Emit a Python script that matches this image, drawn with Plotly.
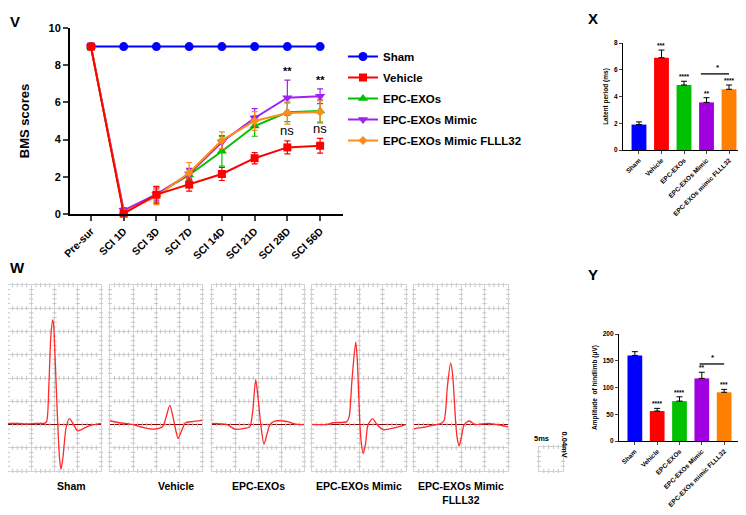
import plotly.graph_objects as go

W, H = 746, 515
OX, OY = 8, 8  # page body margin compensation
FONT = "Liberation Sans, Arial, sans-serif"

# ---------------- Panel V data ----------------
timepoints = ["Pre-sur", "SCI 1D", "SCI 3D", "SCI 7D", "SCI 14D", "SCI 21D", "SCI 28D", "SCI 56D"]
sham_bms = [9, 9, 9, 9, 9, 9, 9, 9]
sham_err = [0, 0, 0, 0, 0, 0, 0, 0]
vehicle_bms = [9, 0.02, 1.04, 1.58, 2.15, 3.0, 3.58, 3.67]
vehicle_err = [0, 0.08, 0.45, 0.35, 0.35, 0.3, 0.35, 0.4]
epc_bms = [9, 0.1, 1.05, 2.1, 3.37, 4.73, 5.47, 5.54]
epc_err = [0, 0.12, 0.4, 0.3, 0.8, 0.55, 0.5, 0.6]
mimic_bms = [9, 0.2, 1.05, 2.15, 3.87, 5.16, 6.25, 6.33]
mimic_err = [0, 0.15, 0.3, 0.3, 0.35, 0.5, 0.95, 0.4]
flll_bms = [9, 0.1, 0.95, 2.22, 3.96, 5.0, 5.43, 5.48]
flll_err = [0, 0.1, 0.45, 0.55, 0.45, 0.5, 0.6, 0.6]

# ---------------- Panel X / Y data ----------------
bar_groups = ["Sham", "Vehicle", "EPC-EXOs", "EPC-EXOs Mimic", "EPC-EXOs mimic FLLL32"]
latent_ms = [1.9, 6.9, 4.86, 3.56, 4.54]
latent_err = [0.2, 0.57, 0.28, 0.35, 0.32]
latent_sig = ["", "***", "****", "**", "****"]
amp_uv = [160, 56, 74.6, 117, 91]
amp_err = [7, 5, 8, 11.5, 5.5]
amp_sig = ["", "****", "****", "**", "***"]

# ---------------- Panel W traces (time ms, mV) ----------------
trace_names = ["Sham", "Vehicle", "EPC-EXOs", "EPC-EXOs Mimic", "EPC-EXOs Mimic<br>FLLL32"]
sham_t = [0, 2, 4, 6, 7.8, 8.3, 8.8, 9.2, 9.6, 9.8, 10.2, 10.7, 11.1, 11.4, 11.8, 12.5, 13.2, 14.1, 15.0, 16.2, 17.6, 20]
sham_v = [0.002, 0.002, 0.001, 0.002, 0.002, 0.005, 0.07, 0.15, 0.18, 0.172, 0.10, 0.0, -0.06, -0.077, -0.058, -0.005, 0.010, 0.0, -0.011, -0.007, -0.002, 0.002]
veh_t = [0, 2.1, 5.0, 7.1, 9.3, 11.4, 12.1, 13.0, 13.7, 14.3, 14.8, 15.6, 16.4, 17.9, 20]
veh_v = [0.006, 0.003, 0.0, -0.005, -0.008, -0.004, 0.01, 0.033, 0.013, -0.01, -0.024, -0.01, 0.003, 0.005, 0.007]
epc_t = [0, 3.2, 5.0, 6.8, 8.2, 8.8, 9.5, 10.0, 10.6, 11.3, 12.0, 12.6, 13.6, 15.4, 16.4, 17.5, 18.9, 20]
epc_v = [0.002, 0.0, -0.008, -0.007, -0.004, 0.019, 0.077, 0.047, 0.0, -0.034, -0.015, 0.0, 0.006, 0.006, 0.005, 0.002, 0.0, 0.0]
mim_t = [0, 3.1, 4.5, 7.4, 7.9, 8.5, 9.3, 9.6, 10.2, 10.5, 10.9, 11.4, 11.9, 12.9, 13.8, 15.2, 17.4, 20]
mim_v = [0.0, 0.0, 0.003, 0.005, 0.013, 0.076, 0.142, 0.116, 0.0, -0.033, -0.05, -0.033, -0.001, 0.010, 0.0, -0.009, -0.006, 0.0]
fl_t = [0, 1.9, 4.1, 5.5, 6.4, 7.1, 7.8, 8.2, 8.9, 9.2, 9.6, 10.1, 10.7, 11.8, 13.0, 15.5, 17.6, 20]
fl_v = [-0.007, -0.005, -0.001, 0.001, 0.007, 0.065, 0.106, 0.087, 0.0, -0.024, -0.037, -0.021, 0.0, 0.006, 0.0, 0.002, 0.0, -0.004]
traces_t = [sham_t, veh_t, epc_t, mim_t, fl_t]
traces_v = [sham_v, veh_v, epc_v, mim_v, fl_v]


def px(x):
    return (x - OX) / W


def py(y):
    return 1 - (y - OY) / H


def xd(a, b):
    return [max(0.0, px(a)), min(1.0, px(b))]


def yd(top, bottom):
    return [max(0.0, py(bottom)), min(1.0, py(top))]


fig = go.Figure()

# ---------------- Panel V ----------------
idx = list(range(len(timepoints)))
series = [
    ("Sham", sham_bms, sham_err, "#0000ff", "circle", 9, 1),
    ("EPC-EXOs", epc_bms, epc_err, "#00c000", "triangle-up", 9, 3),
    ("EPC-EXOs Mimic", mimic_bms, mimic_err, "#a020f0", "triangle-down", 9, 4),
    ("EPC-EXOs Mimic FLLL32", flll_bms, flll_err, "#ff8c1a", "diamond", 7, 5),
    ("Vehicle", vehicle_bms, vehicle_err, "#ff0000", "square", 8, 2),
]
for name, vals, err, col, sym, size, rank in series:
    fig.add_trace(go.Scatter(
        x=idx, y=vals, name=name, mode="lines+markers",
        line=dict(color=col, width=2),
        marker=dict(symbol=sym, size=size, color=col),
        error_y=dict(type="data", array=err, color=col, thickness=1.2, width=3),
        legendrank=rank, legendgroup=name, cliponaxis=False,
        xaxis="x", yaxis="y"))

# ---------------- Panels X and Y ----------------
bar_cols = ["#0000ff", "#ff0000", "#00c000", "#a000e0", "#ff8000"]
bidx = list(range(len(bar_groups)))
fig.add_trace(go.Bar(
    x=bidx, y=latent_ms, marker=dict(color=bar_cols, line=dict(width=0)), width=0.66,
    error_y=dict(type="data", symmetric=False, array=latent_err, arrayminus=[0] * 5,
                 color="black", thickness=1, width=3),
    showlegend=False, xaxis="x2", yaxis="y2"))
fig.add_trace(go.Bar(
    x=bidx, y=amp_uv, marker=dict(color=bar_cols, line=dict(width=0)), width=0.66,
    error_y=dict(type="data", symmetric=False, array=amp_err, arrayminus=[0] * 5,
                 color="black", thickness=1, width=3),
    showlegend=False, xaxis="x3", yaxis="y3"))

# ---------------- Panel W ----------------
panel_x = [(8, 101), (110, 202), (212, 304), (312, 406), (414, 508)]
panel_top, panel_bot = 285, 471
grid_col = "#d2d2d2"
tick_col = "#c4c4c4"
for i in range(5):
    n = i + 4
    xa = "x%d" % n
    ya = "y%d" % n
    hx, hy, vx, vy = [], [], [], []
    for k in range(9):
        yy = -0.08 + 0.04 * k
        for t in range(21):
            if t % 5:
                hx.append(t)
                hy.append(yy)
    for c in range(5):
        for s in range(41):
            if s % 5:
                vx.append(5 * c)
                vy.append(-0.08 + 0.008 * s)
    fig.add_trace(go.Scatter(x=hx, y=hy, mode="markers", hoverinfo="skip", showlegend=False,
                             marker=dict(symbol="line-ns", size=3, line=dict(color=tick_col, width=1)),
                             xaxis=xa, yaxis=ya, cliponaxis=False))
    fig.add_trace(go.Scatter(x=vx, y=vy, mode="markers", hoverinfo="skip", showlegend=False,
                             marker=dict(symbol="line-ew", size=3, line=dict(color=tick_col, width=1)),
                             xaxis=xa, yaxis=ya, cliponaxis=False))
    fig.add_trace(go.Scatter(x=traces_t[i], y=traces_v[i], mode="lines", showlegend=False,
                             line=dict(color="#ff2a2a", width=1.3, shape="spline", smoothing=0.7),
                             xaxis=xa, yaxis=ya))

# scale bar box decorations
fig.add_trace(go.Scatter(x=[1, 2, 3, 4, 1, 2, 3, 4], y=[0] * 4 + [0.04] * 4, mode="markers",
                         hoverinfo="skip", showlegend=False,
                         marker=dict(symbol="line-ns", size=3, line=dict(color=tick_col, width=1)),
                         xaxis="x9", yaxis="y9", cliponaxis=False))
fig.add_trace(go.Scatter(x=[0] * 4 + [5] * 4, y=[0.008, 0.016, 0.024, 0.032] * 2, mode="markers",
                         hoverinfo="skip", showlegend=False,
                         marker=dict(symbol="line-ew", size=3, line=dict(color=tick_col, width=1)),
                         xaxis="x9", yaxis="y9", cliponaxis=False))

layout = dict(
    width=W, height=H, margin=dict(l=0, r=0, t=0, b=0, autoexpand=False),
    paper_bgcolor="white", plot_bgcolor="white",
    font=dict(family=FONT, color="black"),
    showlegend=True,
    legend=dict(x=px(343), y=py(42), xanchor="left", yanchor="top",
                font=dict(family=FONT, size=11.5, weight="bold"),
                traceorder="grouped", itemwidth=30, tracegroupgap=2,
                bgcolor="rgba(0,0,0,0)"),
    bargap=0.3,
)

layout["xaxis"] = dict(domain=xd(70, 343), range=[-0.64, 7.7], tickvals=idx, ticktext=timepoints,
                       tickangle=-45, showline=True, linewidth=2, linecolor="black",
                       ticks="outside", tickwidth=2, ticklen=5, showgrid=False, zeroline=False,
                       tickfont=dict(size=10.5, weight="bold"), anchor="y", automargin=False)
layout["yaxis"] = dict(domain=yd(28, 214), range=[0, 10], dtick=2, showline=True, linewidth=2,
                       linecolor="black", ticks="outside", tickwidth=2, ticklen=5, showgrid=False,
                       zeroline=False, tickfont=dict(size=11, weight="bold"), anchor="x", automargin=False,
                       title=dict(text="BMS scores", font=dict(size=13, weight="bold"), standoff=16))

bar_axis_common = dict(showline=True, linewidth=1.3, linecolor="black", ticks="outside",
                       tickwidth=1.3, ticklen=3, showgrid=False, zeroline=False, automargin=False)
layout["xaxis2"] = dict(domain=xd(623, 745), range=[-0.71, 4.71], tickvals=bidx, ticktext=bar_groups,
                        tickangle=-45, tickfont=dict(size=6.5, weight="bold"), anchor="y2",
                        **bar_axis_common)
layout["yaxis2"] = dict(domain=yd(43, 150), range=[0, 8], dtick=2, tickfont=dict(size=6.5, weight="bold"),
                        anchor="x2", title=dict(text="Latent period (ms)", font=dict(size=6.5, weight="bold"),
                                                standoff=4), **bar_axis_common)
layout["xaxis3"] = dict(domain=xd(619, 740), range=[-0.71, 4.71], tickvals=bidx, ticktext=bar_groups,
                        tickangle=-45, tickfont=dict(size=6.5, weight="bold"), anchor="y3",
                        **bar_axis_common)
layout["yaxis3"] = dict(domain=yd(334, 441), range=[0, 200], dtick=50, tickfont=dict(size=6.5, weight="bold"),
                        anchor="x3", title=dict(text="Amplitude  of hindlimb (μV)",
                                                font=dict(size=6.5, weight="bold"), standoff=4),
                        **bar_axis_common)

for i in range(5):
    n = i + 4
    a, b = panel_x[i]
    layout["xaxis%d" % n] = dict(domain=xd(a, b), range=[0, 20], dtick=5, showgrid=True, gridcolor=grid_col,
                                 gridwidth=1, showline=True, mirror=True, linecolor=grid_col, linewidth=1,
                                 showticklabels=False, ticks="", zeroline=False, anchor="y%d" % n,
                                 automargin=False)
    layout["yaxis%d" % n] = dict(domain=yd(panel_top, panel_bot), range=[-0.08, 0.24], dtick=0.04,
                                 tick0=-0.08, showgrid=True, gridcolor=grid_col, gridwidth=1, showline=True,
                                 mirror=True, linecolor=grid_col, linewidth=1, showticklabels=False, ticks="",
                                 zeroline=True, zerolinecolor="#8b0000", zerolinewidth=1.3,
                                 anchor="x%d" % n, automargin=False)
layout["xaxis9"] = dict(domain=xd(539, 563), range=[0, 5], showgrid=False, showline=True, mirror=True,
                        linecolor=grid_col, linewidth=1, showticklabels=False, ticks="", zeroline=False,
                        anchor="y9", automargin=False)
layout["yaxis9"] = dict(domain=yd(447, 471), range=[0, 0.04], showgrid=False, showline=True, mirror=True,
                        linecolor=grid_col, linewidth=1, showticklabels=False, ticks="", zeroline=False,
                        anchor="x9", automargin=False)

annotations = []
for letter, x, y, xanc in [("V", 8, 11, "left"), ("X", 593, 8, "center"),
                           ("W", 8, 267, "left"), ("Y", 593, 274, "center")]:
    annotations.append(dict(text=letter, x=px(x), y=py(y), xref="paper", yref="paper", showarrow=False,
                            xanchor=xanc, font=dict(size=15, weight="bold")))
annotations += [
    dict(text="**", x=6, y=7.67, xref="x", yref="y", showarrow=False, font=dict(size=11, weight="bold")),
    dict(text="**", x=7, y=7.19, xref="x", yref="y", showarrow=False, font=dict(size=11, weight="bold")),
    dict(text="ns", x=6, y=4.5, xref="x", yref="y", showarrow=False, font=dict(size=13)),
    dict(text="ns", x=7, y=4.62, xref="x", yref="y", showarrow=False, font=dict(size=13)),
]
for i in range(5):
    if latent_sig[i]:
        annotations.append(dict(text=latent_sig[i], x=i, y=latent_ms[i] + latent_err[i], xref="x2", yref="y2",
                                yanchor="bottom", showarrow=False, yshift=-1,
                                font=dict(size=6.5, weight="bold")))
    if amp_sig[i]:
        annotations.append(dict(text=amp_sig[i], x=i, y=amp_uv[i] + amp_err[i], xref="x3", yref="y3",
                                yanchor="bottom", showarrow=False, yshift=-1,
                                font=dict(size=6.5, weight="bold")))
annotations.append(dict(text="*", x=3.5, y=5.69, xref="x2", yref="y2", yanchor="bottom", showarrow=False,
                        font=dict(size=8, weight="bold")))
annotations.append(dict(text="*", x=3.5, y=144, xref="x3", yref="y3", yanchor="bottom", showarrow=False,
                        font=dict(size=8, weight="bold")))
for i in range(5):
    a, b = panel_x[i]
    annotations.append(dict(text=trace_names[i], x=px((a + b) / 2), y=py(478), xref="paper", yref="paper",
                            yanchor="top", showarrow=False, font=dict(size=10.5, weight="bold")))
annotations.append(dict(text="5ms", x=px(551), y=py(445), xref="paper", yref="paper", yanchor="bottom",
                        showarrow=False, font=dict(size=7.5, weight="bold")))
annotations.append(dict(text="0.04mV", x=px(571), y=py(459), xref="paper", yref="paper", textangle=90,
                        showarrow=False, font=dict(size=7.5, weight="bold")))
layout["annotations"] = annotations

layout["shapes"] = [
    dict(type="line", x0=2.75, x1=4.0, y0=5.69, y1=5.69, xref="x2", yref="y2", line=dict(color="black", width=1.3)),
    dict(type="line", x0=2.9, x1=4.0, y0=144, y1=144, xref="x3", yref="y3", line=dict(color="black", width=1.3)),
]

fig.update_layout(**layout)
fig.write_html("out.html")
